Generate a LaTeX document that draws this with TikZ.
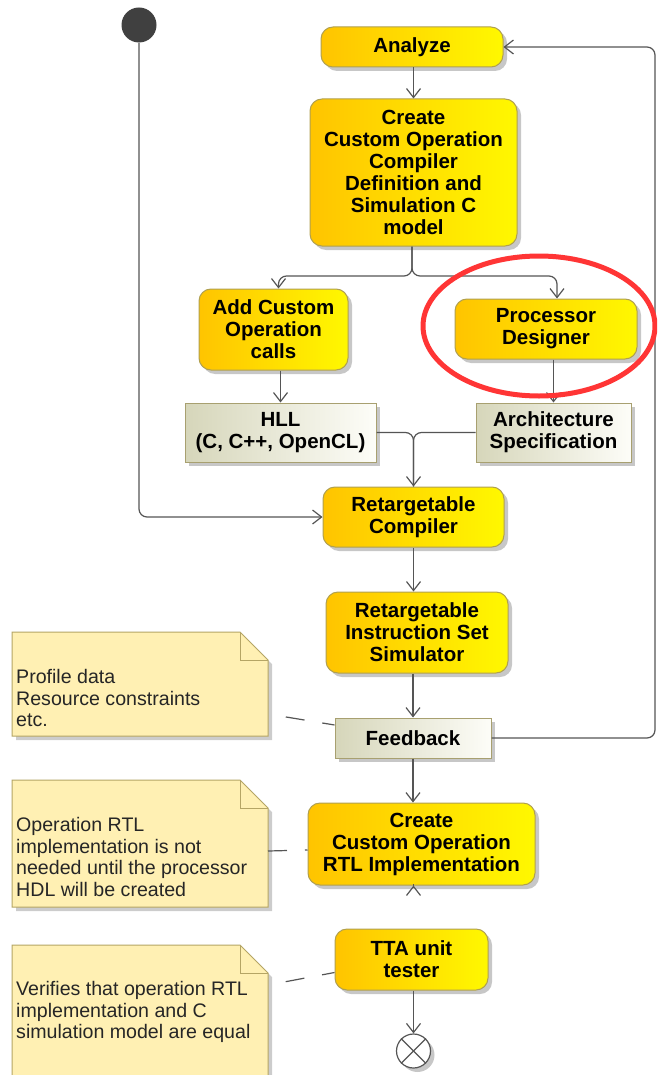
\documentclass[tikz,border=0pt]{standalone}
\usepackage{fontspec}
\setmainfont{Liberation Sans}
\usetikzlibrary{arrows.meta,shadows,calc}
\definecolor{actL}{HTML}{FFC400}
\definecolor{actR}{HTML}{FFF800}
\definecolor{actB}{HTML}{B0A050}
\definecolor{objL}{HTML}{D6D6BA}
\definecolor{objR}{HTML}{FDFDF8}
\definecolor{objB}{HTML}{A8A070}
\definecolor{noteF}{HTML}{FFF0B3}
\definecolor{noteB}{HTML}{B5A565}
\definecolor{lineC}{HTML}{555555}
\definecolor{hiRed}{HTML}{FF3535}
\definecolor{initC}{HTML}{404040}
\begin{document}
\begin{tikzpicture}[x=1pt,y=-1pt,
  shad/.style={drop shadow={shadow xshift=4pt, shadow yshift=-4pt, fill=black, opacity=0.22}},
  act/.style={draw=actB, line width=1pt, rounded corners=12pt, left color=actL, right color=actR,
    align=center, inner sep=0pt, font=\fontsize{20.5}{22}\selectfont\bfseries, shad},
  obj/.style={draw=objB, line width=1pt, left color=objL, right color=objR,
    align=center, inner sep=0pt, font=\fontsize{20.5}{22}\selectfont\bfseries, shad},
  notetext/.style={align=left, inner sep=0pt, anchor=west, text=black!85, font=\fontsize{19.6}{21.7}\selectfont},
  noteshape/.style={draw=noteB, fill=noteF, line width=1pt},
  flow/.style={draw=lineC, line width=1.2pt, rounded corners=8pt, -{Straight Barb[length=9pt,width=14pt,line width=1.2pt]}},
  plain/.style={draw=lineC, line width=1.2pt, rounded corners=8pt},
  notelink/.style={draw=lineC, line width=1.2pt, dash pattern=on 19pt off 18pt}
]
\useasboundingbox (0,0) rectangle (657,1075);
\clip (0,0) rectangle (657,1075);
\fill[white] (0,0) rectangle (657,1075);

% notes
\fill[black, opacity=0.2] (16,636) -- (244,636) -- (272,664) -- (272,740) -- (16,740) -- cycle;
\draw[noteshape] (12,632) -- (240,632) -- (268,660) -- (268,736) -- (12,736) -- cycle;
\draw[noteB, line width=1pt] (240,632) -- (240,660) -- (268,660);
\node[notetext] (note1) at (16,698) {Profile data\\Resource constraints\\etc.};

\fill[black, opacity=0.2] (16,784) -- (244,784) -- (272,812) -- (272,911) -- (16,911) -- cycle;
\draw[noteshape] (12,780) -- (240,780) -- (268,808) -- (268,907) -- (12,907) -- cycle;
\draw[noteB, line width=1pt] (240,780) -- (240,808) -- (268,808);
\node[notetext] (note2) at (16,857) {Operation RTL\\implementation is not\\needed until the processor\\HDL will be created};

\fill[black, opacity=0.2] (16,949) -- (244,949) -- (272,977) -- (272,1090) -- (16,1090) -- cycle;
\draw[noteshape] (12,945) -- (240,945) -- (268,973) -- (268,1090) -- (12,1090) -- cycle;
\draw[noteB, line width=1pt] (240,945) -- (240,973) -- (268,973);
\node[notetext] (note3) at (16,1012) {Verifies that operation RTL\\implementation and C\\simulation model are equal};

% initial and final
\node[circle, fill=initC, minimum size=35pt, inner sep=0pt] (init) at (139,25) {};
\node[circle, draw=lineC, fill=white, line width=1.2pt, minimum size=34pt, inner sep=0pt, shad] (final) at (413.5,1051) {};
\draw[lineC, line width=1.2pt] (final.north west) -- (final.south east);
\draw[lineC, line width=1.2pt] (final.north east) -- (final.south west);

% action nodes
\node[act, minimum width=182pt, minimum height=40pt] (analyze) at (412,47) {Analyze};
\node[act, minimum width=207pt, minimum height=147pt] (create) at (413.5,172.5) {Create\\Custom Operation\\Compiler\\Definition and\\Simulation C\\model};
\node[act, minimum width=149pt, minimum height=81pt] (add) at (273.5,329.5) {Add Custom\\Operation\\calls};
\node[act, minimum width=182pt, minimum height=60pt] (proc) at (546,329) {Processor\\Designer};
\node[act, minimum width=181pt, minimum height=60pt] (compiler) at (413.5,517) {Retargetable\\Compiler};
\node[act, minimum width=182pt, minimum height=81pt] (iss) at (417,632.5) {Retargetable\\Instruction Set\\Simulator};
\node[act, minimum width=227pt, minimum height=82pt] (rtl) at (421.5,844) {Create\\Custom Operation\\RTL Implementation};
\node[act, minimum width=153pt, minimum height=61pt] (tta) at (411.5,959.5) {TTA unit\\tester};

% object nodes
\node[obj, minimum width=191pt, minimum height=59pt] (hll) at (280.5,432.5) {HLL\\(C, C++, OpenCL)};
\node[obj, minimum width=155pt, minimum height=59pt] (arch) at (553.5,432.5) {Architecture\\Specification};
\node[obj, minimum width=156pt, minimum height=40pt] (feedback) at (413,738) {Feedback};

% connectors
\draw[flow] (init.south) |- (compiler.west);
\draw[flow] (analyze.south -| create.north) -- (create.north);
\coordinate (fork) at (412,276);
\draw[flow] (create.south -| fork) -- (fork) -| ($(add.north)+(5,0)$);
\draw[flow] (create.south -| fork) -- (fork) -| ($(proc.north)+(11,0)$);
\draw[flow] (add.south -| hll.north) -- (hll.north);
\draw[flow] (proc.south -| arch.north) -- (arch.north);
\draw[plain] (hll.east) -| (compiler.north);
\draw[flow] (arch.west) -| (compiler.north);
\draw[flow] (compiler.south) -- (compiler.south |- iss.north);
\draw[flow] (iss.south -| feedback.north) -- (feedback.north);
\draw[flow] (feedback.south) -- (feedback.south |- rtl.north);
\draw[flow] (rtl.south -| final.north) -- (rtl.south -| final.north |- tta.north);
\draw[flow] (tta.south -| final.north) -- (final.north);
\draw[flow] (feedback.east) -| (655,47) -- (analyze.east);

% note links
\coordinate (n1) at (268,714);
\coordinate (n2) at (268,851);
\coordinate (n3) at (268,985);
\draw[notelink, dash phase=19pt] (n1) -- ($(feedback.west)+(0,-13)$);
\draw[notelink] (n2) -- ($(rtl.west)+(0,6)$);
\draw[notelink, dash phase=19pt] (n3) -- ($(tta.west)+(0,13)$);

% highlight
\draw[hiRed, line width=5pt] (539,326) ellipse (116 and 70);
\end{tikzpicture}
\end{document}
